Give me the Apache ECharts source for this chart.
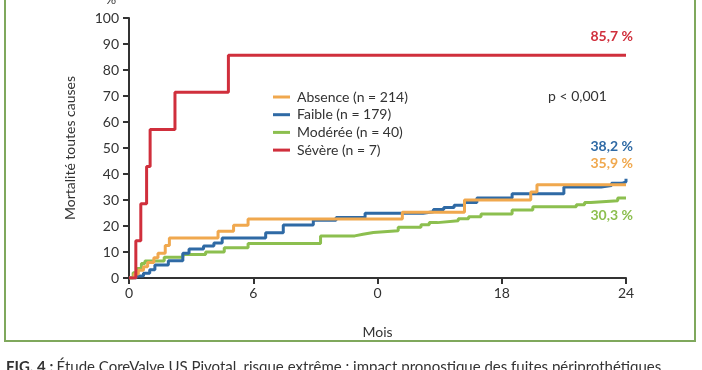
<!DOCTYPE html>
<html><head><meta charset="utf-8">
<script src="https://cdn.jsdelivr.net/npm/echarts@6/dist/echarts.min.js"></script>
<style>html,body{margin:0;padding:0;background:#fff}#c{width:702px;height:370px}</style>
</head><body><div id="c"></div>
<script>
const seriesNames = ['Absence (n = 214)', 'Faible (n = 179)', 'Modérée (n = 40)', 'Sévère (n = 7)'];
const xTickLabels = ['0', '6', '0', '18', '24'];
const yTicks = [0,10,20,30,40,50,60,70,80,90,100];

const absenceT = [0, 0.25, 0.45, 0.7, 0.9, 1.2, 1.4, 1.75, 1.95, 4.3, 5.05, 5.75, 13.2, 16.2, 19.4, 19.7, 24];
const absenceV = [0, 1.5, 3, 4.3, 6, 7.8, 9.5, 12.5, 15.4, 18.0, 20.3, 22.7, 25.3, 30.0, 33.1, 35.9, 35.9];

const faibleT = [0, 0.35, 0.7, 1.0, 1.25, 1.9, 2.6, 2.9, 3.6, 4.1, 4.5, 6.6, 7.45, 8.9, 10.0, 11.4, 14.2, 14.7, 15.2, 15.7, 16.2, 16.8, 18.5, 21.0, 22.8, 23.3, 23.8, 24];
const faibleV = [0, 0.8, 1.8, 3.2, 5.0, 6.6, 9.5, 11.2, 12.3, 13.5, 15.4, 17.4, 20.4, 22.2, 23.3, 24.9, 25.5, 26.3, 27.1, 28.0, 29.0, 30.8, 32.4, 35.0, 35.6, 36.4, 37.0, 38.2];

const modereeT = [0, 0.2, 0.4, 0.6, 0.77, 1.7, 2.6, 3.7, 4.6, 5.75, 9.25, 10.9, 11.3, 11.8, 13.0, 14.1, 14.5, 14.9, 15.9, 16.4, 17.0, 18.5, 19.5, 21.6, 22.0, 22.3, 23.6, 24];
const modereeV = [0, 2, 3.7, 5.6, 6.5, 8.0, 9.0, 10.0, 11.6, 13.3, 16.2, 16.8, 17.5, 18.2, 19.5, 20.5, 21.3, 22.0, 22.8, 23.6, 24.6, 26.2, 27.4, 28.2, 29.0, 29.7, 30.8, 30.8];

const severeT = [0, 0.33, 0.57, 0.85, 1.02, 2.22, 4.8, 24];
const severeV = [0, 14.3, 28.6, 42.9, 57.1, 71.4, 85.7, 85.7];

const finalLabels = ['35,9 %', '38,2 %', '30,3 %', '85,7 %'];
const colors = ['#f0a84e', '#2f6aa5', '#8cbf4f', '#d02f3c'];

const pair = (t, v) => t.map((x, i) => [x, v[i]]);
const FONT = 'Lato';
const TXT = '#333333';

const chart = echarts.init(document.getElementById('c'), null, {renderer: 'canvas'});
function mk(idx, t, v) {
  return {name: seriesNames[idx], type: 'line', step: 'end', symbol: 'none',
    data: pair(t, v), lineStyle: {width: 3, color: colors[idx]}, itemStyle: {color: colors[idx]}, z: 2};
}
chart.setOption({
  animation: false,
  textStyle: {fontFamily: FONT},
  grid: {left: 129, right: 76, top: 18, bottom: 92},
  legend: {
    data: seriesNames, orient: 'vertical', left: 268, top: 85, itemGap: 3.7,
    itemWidth: 17, itemHeight: 3, icon: 'rect',
    textStyle: {fontFamily: FONT, fontSize: 14, color: TXT, lineHeight: 14, padding: [0,0,0,2]}
  },
  xAxis: {
    type: 'value', min: 0, max: 24, interval: 6,
    name: 'Mois', nameLocation: 'middle', nameGap: 47,
    nameTextStyle: {fontFamily: FONT, fontSize: 14, color: TXT},
    axisLine: {lineStyle: {color: '#333', width: 2}},
    axisTick: {length: 6, lineStyle: {color: '#333', width: 2}},
    axisLabel: {fontFamily: FONT, fontSize: 14, color: TXT, margin: 8,
      formatter: v => xTickLabels[Math.round(v / 6)]},
    splitLine: {show: false}
  },
  yAxis: {
    type: 'value', min: 0, max: 100, interval: 10,
    name: 'Mortalité toutes causes', nameLocation: 'middle', nameGap: 52, nameRotate: 90,
    nameTextStyle: {fontFamily: FONT, fontSize: 14, color: TXT},
    axisLine: {show: true, lineStyle: {color: '#333', width: 2}},
    axisTick: {show: true, length: 6, lineStyle: {color: '#333', width: 2}},
    axisLabel: {fontFamily: FONT, fontSize: 14, color: TXT, margin: 10},
    splitLine: {show: false}
  },
  series: [
    mk(2, modereeT, modereeV),
    mk(1, faibleT, faibleV),
    mk(0, absenceT, absenceV),
    mk(3, severeT, severeV)
  ],
  graphic: [
    {type: 'rect', shape: {x: 5, y: -10, width: 690, height: 351},
     style: {fill: 'none', stroke: '#7fa85c', lineWidth: 2}, z: 0},
    {type: 'text', x: 111, y: 0, style: {text: '%', fontFamily: FONT, fontSize: 13, fill: TXT, align: 'center', verticalAlign: 'middle'}},
    {type: 'text', x: 548, y: 96, style: {text: 'p < 0,001', fontFamily: FONT, fontSize: 14, fill: TXT, verticalAlign: 'middle'}},
    {type: 'text', x: 633, y: 36, style: {text: finalLabels[3], fontFamily: FONT, fontSize: 14, fontWeight: 'bold', fill: colors[3], align: 'right', verticalAlign: 'middle'}},
    {type: 'text', x: 633, y: 146, style: {text: finalLabels[1], fontFamily: FONT, fontSize: 14, fontWeight: 'bold', fill: colors[1], align: 'right', verticalAlign: 'middle'}},
    {type: 'text', x: 633, y: 163, style: {text: finalLabels[0], fontFamily: FONT, fontSize: 14, fontWeight: 'bold', fill: colors[0], align: 'right', verticalAlign: 'middle'}},
    {type: 'text', x: 633, y: 215, style: {text: finalLabels[2], fontFamily: FONT, fontSize: 14, fontWeight: 'bold', fill: colors[2], align: 'right', verticalAlign: 'middle'}},
    {type: 'text', x: 6, y: 360, style: {
      text: '{b|FIG. 4 :} {r|Étude CoreValve US Pivotal, risque extrême : impact pronostique des fuites périprothétiques.}',
      rich: {b: {fontFamily: FONT, fontSize: 15, fontWeight: 'bold', fill: TXT, color: TXT},
             r: {fontFamily: FONT, fontSize: 15, fill: TXT, color: TXT}},
      fill: TXT}}
  ]
});
</script></body></html>
